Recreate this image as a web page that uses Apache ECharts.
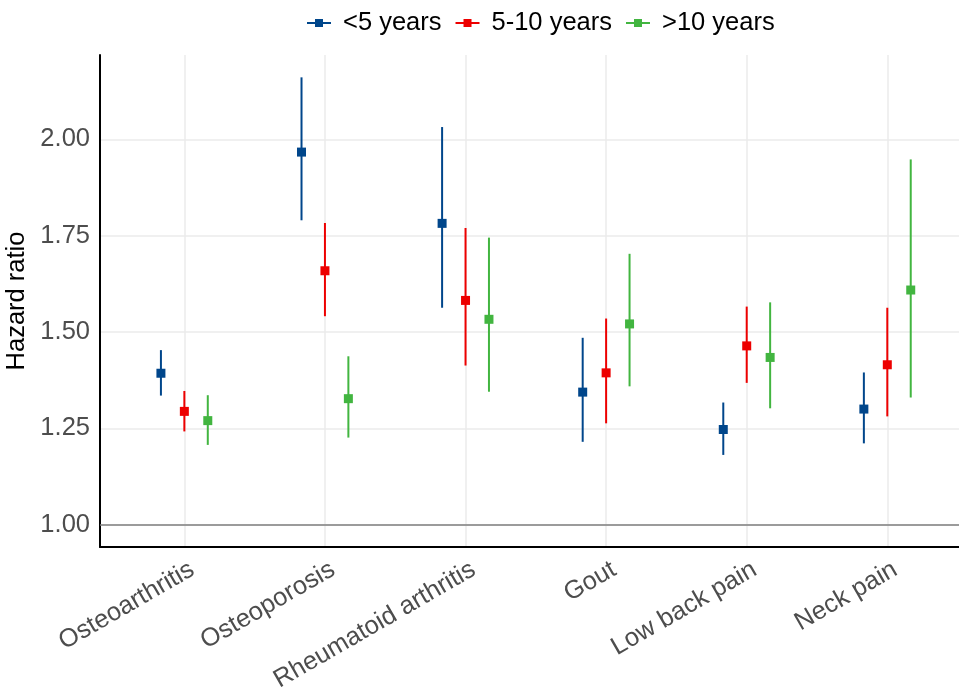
<!DOCTYPE html>
<html>
<head>
<meta charset="utf-8">
<script src="https://cdn.jsdelivr.net/npm/echarts@6/dist/echarts.min.js"></script>
<style>html,body{margin:0;padding:0;background:#fff;}#main{width:959px;height:690px;}</style>
</head>
<body>
<div id="main"></div>
<script>
const categories = ['Osteoarthritis', 'Osteoporosis', 'Rheumatoid arthritis', 'Gout', 'Low back pain', 'Neck pain'];
const groups = ['<5 years', '5-10 years', '>10 years'];
const colors = ['#00468B', '#ED0000', '#42B540'];

const hrLt5 = [1.393, 1.967, 1.782, 1.344, 1.247, 1.300];
const loLt5 = [1.335, 1.790, 1.563, 1.215, 1.181, 1.211];
const hiLt5 = [1.453, 2.161, 2.032, 1.485, 1.317, 1.395];

const hr5to10 = [1.294, 1.659, 1.582, 1.394, 1.464, 1.415];
const lo5to10 = [1.242, 1.541, 1.413, 1.263, 1.368, 1.281];
const hi5to10 = [1.347, 1.783, 1.770, 1.535, 1.566, 1.563];

const hrGt10 = [1.270, 1.327, 1.533, 1.521, 1.434, 1.609];
const loGt10 = [1.207, 1.226, 1.345, 1.359, 1.302, 1.330];
const hiGt10 = [1.336, 1.437, 1.745, 1.703, 1.577, 1.948];

const yTicks = [1.00, 1.25, 1.50, 1.75, 2.00];
const referenceHR = 1.00;

const seriesValues = [
  [hrLt5, loLt5, hiLt5],
  [hr5to10, lo5to10, hi5to10],
  [hrGt10, loGt10, hiGt10]
];
const dodgeWidth = 0.5;
const catPositions = categories.map((c, i) => i + 1);

const FONT = 'Liberation Sans, Arial, Helvetica, sans-serif';
const FS = 25.5;

function renderItem(params, api) {
  const x = api.value(0), est = api.value(1), lo = api.value(2), hi = api.value(3);
  const pTop = api.coord([x, hi]);
  const pBot = api.coord([x, lo]);
  const pMid = api.coord([x, est]);
  const color = api.visual('color');
  const s = 9;
  return {
    type: 'group',
    children: [
      { type: 'line', shape: { x1: pTop[0], y1: pTop[1], x2: pBot[0], y2: pBot[1] }, style: { stroke: color, lineWidth: 2 } },
      { type: 'rect', shape: { x: pMid[0] - s / 2, y: pMid[1] - s / 2, width: s, height: s }, style: { fill: color } }
    ]
  };
}

const series = groups.map((g, gi) => {
  const [hr, lo, hi] = seriesValues[gi];
  const offset = (gi - (groups.length - 1) / 2) * dodgeWidth / groups.length;
  const s = {
    name: g,
    type: 'custom',
    renderItem: renderItem,
    itemStyle: { color: colors[gi] },
    encode: { x: 0, y: [1, 2, 3] },
    data: hr.map((v, i) => [catPositions[i] + offset, v, lo[i], hi[i]]),
    z: 5
  };
  if (gi === 0) {
    s.markLine = {
      silent: true,
      symbol: 'none',
      label: { show: false },
      lineStyle: { color: '#7f7f7f', width: 1.5, type: 'solid' },
      data: [{ yAxis: referenceHR }],
      z: 3
    };
  }
  return s;
});

const legendIcon = 'path://M0,3 L8,3 L8,0 L16,0 L16,3 L24,3 L24,5 L16,5 L16,8 L8,8 L8,5 L0,5 Z';

const chart = echarts.init(document.getElementById('main'), null, { renderer: 'canvas' });
chart.setOption({
  backgroundColor: '#ffffff',
  animation: false,
  textStyle: { fontFamily: FONT },
  legend: {
    data: groups.map((g, i) => ({ name: g, icon: legendIcon, itemStyle: { color: colors[i] } })),
    top: 5,
    left: 302,
    itemWidth: 24,
    itemHeight: 8,
    itemGap: 14,
    textStyle: { fontSize: FS, color: '#000', fontFamily: FONT, padding: [0, 0, 0, 7] }
  },
  grid: { left: 100, right: 0, top: 55, bottom: 143, containLabel: false, outerBoundsMode: 'none' },
  xAxis: {
    type: 'value',
    min: 0.4,
    max: 6.51,
    axisLine: { show: true, onZero: false, lineStyle: { color: '#000', width: 2 } },
    axisTick: { show: false, customValues: catPositions },
    axisLabel: {
      customValues: catPositions,
      formatter: v => categories[Math.round(v) - 1] || '',
      rotate: 30,
      fontSize: FS,
      color: '#4d4d4d',
      fontFamily: FONT,
      margin: 7,
      verticalAlign: 'top',
      lineHeight: 32
    },
    splitLine: { show: true, lineStyle: { color: '#ebebeb', width: 1.5 } }
  },
  yAxis: {
    type: 'value',
    min: 0.942,
    max: 2.219,
    name: 'Hazard ratio',
    nameLocation: 'middle',
    nameRotate: 90,
    nameGap: 62,
    nameTextStyle: { fontSize: FS, color: '#000', fontFamily: FONT },
    axisLine: { show: true, onZero: false, lineStyle: { color: '#000', width: 2 } },
    axisTick: { show: false, customValues: yTicks },
    axisLabel: {
      customValues: yTicks,
      formatter: v => v.toFixed(2),
      fontSize: FS,
      color: '#4d4d4d',
      fontFamily: FONT,
      margin: 10
    },
    splitLine: { show: true, lineStyle: { color: '#ebebeb', width: 1.5 } }
  },
  series: series
});
</script>
</body>
</html>
